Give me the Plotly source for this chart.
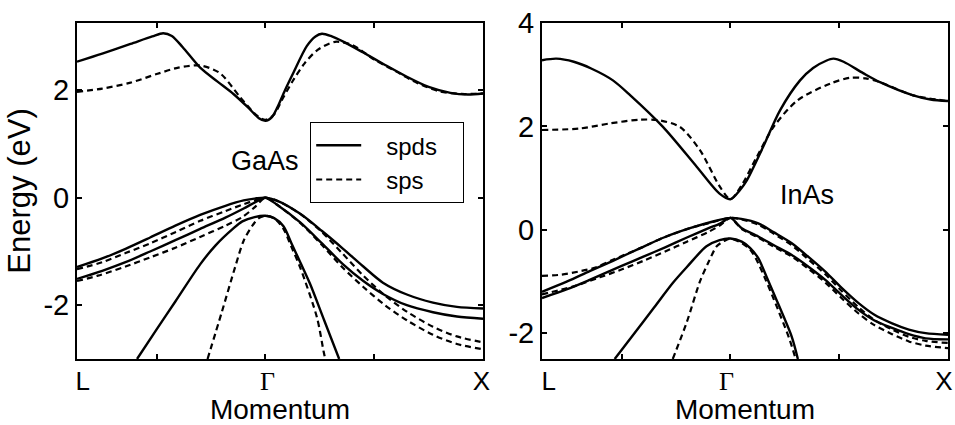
import plotly.graph_objects as go

KL = -0.866  # L point (Gamma at 0, X at 1)

# ---------------- GaAs ----------------
gaas_spds_cb_k = [-0.866, -0.75, -0.62, -0.52, -0.47, -0.43, -0.38, -0.30, -0.22, -0.147, -0.08, -0.03, 0.0,
                  0.03, 0.055, 0.09, 0.128, 0.19, 0.23, 0.26, 0.30, 0.36, 0.45, 0.55, 0.65, 0.75, 0.85, 0.93, 1.0]
gaas_spds_cb_e = [2.53, 2.68, 2.86, 3.00, 3.06, 3.01, 2.80, 2.42, 2.16, 1.93, 1.68, 1.48, 1.43,
                  1.50, 1.68, 2.00, 2.32, 2.82, 3.00, 3.05, 3.01, 2.90, 2.70, 2.47, 2.25, 2.06, 1.95, 1.92, 1.94]
gaas_sps_cb_k = [-0.866, -0.75, -0.62, -0.5, -0.4, -0.3, -0.21, -0.116, -0.04, 0.0,
                 0.04, 0.08, 0.13, 0.18, 0.24, 0.32, 0.40, 0.50, 0.60, 0.70, 0.80, 0.90, 1.0]
gaas_sps_cb_e = [1.97, 2.03, 2.14, 2.30, 2.42, 2.46, 2.32, 1.87, 1.53, 1.45,
                 1.55, 1.85, 2.20, 2.50, 2.75, 2.90, 2.84, 2.57, 2.35, 2.13, 1.98, 1.93, 1.94]

gaas_spds_hh_k = [-0.866, -0.75, -0.643, -0.53, -0.414, -0.3, -0.184, -0.1, -0.04, 0.0,
                  0.05, 0.16, 0.26, 0.357, 0.45, 0.54, 0.65, 0.77, 0.88, 1.0]
gaas_spds_hh_e = [-1.29, -1.13, -0.95, -0.74, -0.52, -0.32, -0.15, -0.05, -0.01, 0.0,
                  -0.05, -0.30, -0.62, -0.95, -1.28, -1.58, -1.80, -1.95, -2.03, -2.06]
gaas_spds_lh_k = [-0.866, -0.75, -0.643, -0.53, -0.414, -0.3, -0.184, -0.1, -0.04, 0.0,
                  0.05, 0.16, 0.26, 0.357, 0.45, 0.54, 0.65, 0.77, 0.88, 1.0]
gaas_spds_lh_e = [-1.51, -1.36, -1.20, -1.00, -0.79, -0.58, -0.37, -0.20, -0.07, 0.0,
                  -0.12, -0.46, -0.85, -1.24, -1.55, -1.79, -2.00, -2.13, -2.21, -2.25]
gaas_sps_hh_k = [-0.866, -0.75, -0.643, -0.53, -0.414, -0.3, -0.184, -0.1, -0.04, 0.0,
                 0.05, 0.16, 0.26, 0.35, 0.45, 0.55, 0.65, 0.77, 0.88, 1.0]
gaas_sps_hh_e = [-1.33, -1.20, -1.03, -0.85, -0.64, -0.43, -0.25, -0.12, -0.04, 0.0,
                 -0.05, -0.30, -0.64, -1.02, -1.45, -1.82, -2.12, -2.40, -2.58, -2.69]
gaas_sps_lh_k = [-0.866, -0.77, -0.643, -0.53, -0.414, -0.3, -0.184, -0.106, -0.05, 0.0,
                 0.05, 0.16, 0.26, 0.35, 0.45, 0.55, 0.65, 0.77, 0.88, 1.0]
gaas_sps_lh_e = [-1.55, -1.45, -1.28, -1.11, -0.93, -0.73, -0.52, -0.36, -0.18, 0.0,
                 -0.12, -0.47, -0.88, -1.28, -1.66, -2.00, -2.28, -2.55, -2.72, -2.82]

gaas_spds_so_k = [-0.59, -0.5, -0.414, -0.3, -0.23, -0.15, -0.106, -0.05, 0.0,
                  0.04, 0.083, 0.12, 0.16, 0.206, 0.27, 0.339]
gaas_spds_so_e = [-3.0, -2.45, -1.93, -1.24, -0.89, -0.58, -0.44, -0.36, -0.335,
                  -0.38, -0.53, -0.85, -1.20, -1.61, -2.28, -3.0]
gaas_sps_so_k = [-0.266, -0.2, -0.14, -0.1, -0.06, -0.03, 0.0,
                 0.04, 0.083, 0.12, 0.16, 0.237, 0.267, 0.275]
gaas_sps_so_e = [-3.0, -2.12, -1.30, -0.80, -0.52, -0.38, -0.335,
                 -0.38, -0.58, -0.92, -1.30, -2.23, -2.85, -3.0]

# ---------------- InAs ----------------
inas_spds_cb_k = [-0.866, -0.8, -0.72, -0.64, -0.54, -0.46, -0.31, -0.155, -0.05, 0.0,
                  0.044, 0.076, 0.15, 0.228, 0.32, 0.38, 0.44, 0.473, 0.52, 0.61, 0.69, 0.84, 0.92, 1.0]
inas_spds_cb_e = [3.28, 3.31, 3.25, 3.12, 2.89, 2.60, 1.99, 1.22, 0.70, 0.59,
                  0.77, 0.96, 1.60, 2.31, 2.89, 3.13, 3.27, 3.31, 3.25, 3.03, 2.85, 2.60, 2.52, 2.49]
inas_sps_cb_k = [-0.866, -0.69, -0.55, -0.417, -0.33, -0.232, -0.14, -0.048, 0.0,
                 0.05, 0.12, 0.2, 0.31, 0.46, 0.55, 0.62, 0.69, 0.84, 1.0]
inas_sps_cb_e = [1.93, 1.96, 2.06, 2.13, 2.12, 1.99, 1.54, 0.83, 0.59,
                 0.85, 1.40, 2.00, 2.51, 2.83, 2.94, 2.93, 2.85, 2.60, 2.49]

inas_spds_hh_k = [-0.866, -0.75, -0.647, -0.54, -0.417, -0.3, -0.186, -0.08, -0.017, 0.0,
                  0.05, 0.128, 0.2, 0.282, 0.36, 0.436, 0.51, 0.589, 0.66, 0.743, 0.82, 0.897, 1.0]
inas_spds_hh_e = [-1.20, -1.00, -0.80, -0.60, -0.36, -0.14, 0.03, 0.16, 0.22, 0.23,
                  0.21, 0.125, -0.05, -0.26, -0.53, -0.81, -1.12, -1.42, -1.64, -1.81, -1.93, -2.00, -2.03]
inas_spds_lh_k = [-0.866, -0.75, -0.647, -0.5, -0.4, -0.3, -0.2, -0.1, -0.048, 0.0,
                  0.03, 0.052, 0.128, 0.2, 0.282, 0.36, 0.436, 0.51, 0.589, 0.66, 0.743, 0.82, 0.897, 1.0]
inas_spds_lh_e = [-1.32, -1.15, -0.97, -0.70, -0.52, -0.34, -0.15, 0.03, 0.12, 0.23,
                  0.12, 0.03, -0.13, -0.30, -0.49, -0.72, -0.97, -1.26, -1.55, -1.75, -1.90, -2.02, -2.10, -2.12]
inas_sps_hh_k = [-0.866, -0.78, -0.7, -0.62, -0.54, -0.417, -0.3, -0.186, -0.08, 0.0,
                 0.05, 0.128, 0.2, 0.282, 0.36, 0.436, 0.51, 0.589, 0.66, 0.743, 0.82, 0.897, 1.0]
inas_sps_hh_e = [-0.89, -0.87, -0.81, -0.73, -0.58, -0.36, -0.14, 0.03, 0.15, 0.23,
                 0.20, 0.10, -0.08, -0.30, -0.58, -0.86, -1.18, -1.50, -1.74, -1.93, -2.07, -2.15, -2.19]
inas_sps_lh_k = [-0.866, -0.725, -0.6, -0.495, -0.4, -0.3, -0.2, -0.1, -0.05, 0.0,
                 0.03, 0.05, 0.128, 0.2, 0.282, 0.36, 0.436, 0.51, 0.589, 0.66, 0.743, 0.82, 0.897, 1.0]
inas_sps_lh_e = [-1.25, -1.10, -0.92, -0.76, -0.60, -0.42, -0.23, -0.04, 0.08, 0.23,
                 0.11, 0.02, -0.15, -0.33, -0.52, -0.76, -1.02, -1.32, -1.62, -1.84, -2.02, -2.16, -2.24, -2.29]

inas_spds_so_k = [-0.532, -0.45, -0.35, -0.265, -0.2, -0.11, -0.05, 0.0,
                  0.052, 0.09, 0.128, 0.165, 0.205, 0.282, 0.31]
inas_spds_so_e = [-2.5, -2.05, -1.50, -1.03, -0.72, -0.32, -0.20, -0.17,
                  -0.23, -0.35, -0.55, -0.90, -1.29, -2.07, -2.5]
inas_sps_so_k = [-0.265, -0.2, -0.14, -0.1, -0.063, -0.03, 0.0,
                 0.05, 0.09, 0.12, 0.16, 0.20, 0.27, 0.30]
inas_sps_so_e = [-2.5, -1.78, -1.00, -0.62, -0.32, -0.22, -0.17,
                 -0.25, -0.38, -0.58, -0.95, -1.35, -2.10, -2.5]

NB = "\u00a0"
GAMMA = "<span style='font-family:Liberation Serif'>Γ</span>"
x_tickvals = [KL, -0.5, 0.0, 0.5, 1.0]
x_ticktext = [NB + "L", "", GAMMA, "", "X" + NB]
x2_ticktext = [NB * 3 + "L", "", GAMMA, "", "X"]
legend_names = ["spds", "sps"]

FONT = "Liberation Sans, Arial, Helvetica, sans-serif"
SOLID = dict(color="black", width=2.4)
DASH = dict(color="black", width=2.2, dash="6px,4px")

fig = go.Figure()

panels = [
    ("x", "y", [
        (gaas_spds_cb_k, gaas_spds_cb_e, gaas_sps_cb_k, gaas_sps_cb_e),
        (gaas_spds_hh_k, gaas_spds_hh_e, gaas_sps_hh_k, gaas_sps_hh_e),
        (gaas_spds_lh_k, gaas_spds_lh_e, gaas_sps_lh_k, gaas_sps_lh_e),
        (gaas_spds_so_k, gaas_spds_so_e, gaas_sps_so_k, gaas_sps_so_e),
    ]),
    ("x2", "y2", [
        (inas_spds_cb_k, inas_spds_cb_e, inas_sps_cb_k, inas_sps_cb_e),
        (inas_spds_hh_k, inas_spds_hh_e, inas_sps_hh_k, inas_sps_hh_e),
        (inas_spds_lh_k, inas_spds_lh_e, inas_sps_lh_k, inas_sps_lh_e),
        (inas_spds_so_k, inas_spds_so_e, inas_sps_so_k, inas_sps_so_e),
    ]),
]

first = True
for xa, ya, bands in panels:
    for (k1, e1, k2, e2) in bands:
        fig.add_trace(go.Scatter(x=k2, y=e2, mode="lines", xaxis=xa, yaxis=ya,
                                 line=dict(**DASH, shape="spline", smoothing=0.8),
                                 name=NB * 3 + legend_names[1] + NB * 5, legendrank=2,
                                 showlegend=first))
        fig.add_trace(go.Scatter(x=k1, y=e1, mode="lines", xaxis=xa, yaxis=ya,
                                 line=dict(**SOLID, shape="spline", smoothing=0.8),
                                 name=NB * 3 + legend_names[0] + NB * 2, legendrank=1,
                                 showlegend=first))
        first = False

axis_common = dict(showline=True, linecolor="black", linewidth=2, mirror="ticks",
                   ticks="inside", ticklen=5, tickwidth=1.5, tickcolor="black",
                   showgrid=False, zeroline=False, automargin=False,
                   ticklabeloverflow="allow")
xtickfont = dict(family=FONT, size=26, color="black")
ytickfont = dict(family=FONT, size=29, color="black")

W, H = 955, 425
fig.update_layout(
    width=W, height=H,
    margin=dict(l=0, r=0, t=0, b=0, autoexpand=False),
    paper_bgcolor="white", plot_bgcolor="white",
    font=dict(family=FONT, color="black"),
    xaxis=dict(domain=[77 / W, 483 / W], range=[KL, 1.0], tickvals=x_tickvals, ticktext=x_ticktext,
               tickfont=xtickfont, ticklabelstandoff=-2, ticklabelshift=2,
               title=dict(text="Momentum", font=dict(family=FONT, size=28), standoff=4),
               anchor="y", **axis_common),
    yaxis=dict(domain=[1 - 359 / H, 1 - 23 / H], range=[-3.0, 3.25], tickvals=[-2, 0, 2],
               ticktext=["-2", "0", "2"], tickfont=ytickfont,
               title=dict(text="Energy (eV)", font=dict(family=FONT, size=31), standoff=4),
               anchor="x", **axis_common),
    xaxis2=dict(domain=[542 / W, 948 / W], range=[KL, 1.0], tickvals=x_tickvals, ticktext=x2_ticktext,
                tickfont=xtickfont, ticklabelstandoff=-2, ticklabelshift=-4,
                title=dict(text="Momentum", font=dict(family=FONT, size=28), standoff=4),
                anchor="y2", **axis_common),
    yaxis2=dict(domain=[1 - 359 / H, 1 - 23 / H], range=[-2.5, 4.0], tickvals=[-2, 0, 2, 4],
                ticktext=["-2", "0", "2", "4"], tickfont=ytickfont, anchor="x2", **axis_common),
    legend=dict(x=310 / W, y=1 - 122 / H, xanchor="left", yanchor="top",
                bgcolor="white", bordercolor="black", borderwidth=1.2,
                font=dict(family=FONT, size=24, color="black"),
                tracegroupgap=0, itemwidth=45),
    showlegend=True,
    annotations=[
        dict(text="GaAs", x=0.0, y=0.69, xref="x", yref="y", showarrow=False,
             font=dict(family=FONT, size=27, color="black")),
        dict(text="InAs", x=0.35, y=0.67, xref="x2", yref="y2", showarrow=False,
             font=dict(family=FONT, size=27, color="black")),
    ],
)

fig.write_html("out.html")
